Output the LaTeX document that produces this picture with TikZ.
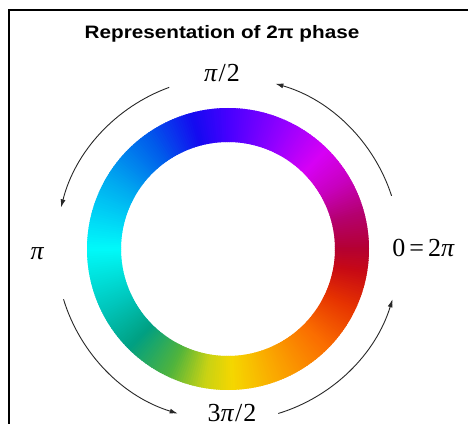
\documentclass[tikz,border=0pt]{standalone}
\usepackage{fontspec}
\newfontfamily\titlefont{Liberation Sans}
\newfontfamily\labelfont{Liberation Serif}
\usetikzlibrary{arrows.meta,calc}
\definecolor{s0}{RGB}{180,0,50}
\definecolor{s1}{RGB}{180,0,110}
\definecolor{s2}{RGB}{200,0,190}
\definecolor{s3}{RGB}{215,0,245}
\definecolor{s4}{RGB}{150,0,255}
\definecolor{s5}{RGB}{70,0,255}
\definecolor{s6}{RGB}{20,10,240}
\definecolor{s7}{RGB}{0,90,235}
\definecolor{s8}{RGB}{0,170,240}
\definecolor{s9}{RGB}{0,250,250}
\definecolor{s10}{RGB}{0,200,190}
\definecolor{s11}{RGB}{0,160,130}
\definecolor{s12}{RGB}{80,180,60}
\definecolor{s13}{RGB}{200,210,20}
\definecolor{s14}{RGB}{245,215,0}
\definecolor{s15}{RGB}{250,170,0}
\definecolor{s16}{RGB}{250,110,0}
\definecolor{s17}{RGB}{230,50,0}
\definecolor{s18}{RGB}{200,10,20}
\definecolor{arcgray}{RGB}{40,40,40}
\newcommand\ringpart[4]{%
  \pgfmathtruncatemacro\nseg{#2-#1}%
  \foreach \k in {1,...,\nseg}{%
    \pgfmathsetmacro\angA{#1+\k-1}%
    \pgfmathsetmacro\angB{#1+\k+0.5}%
    \pgfmathtruncatemacro\pp{100*(\k-0.5)/\nseg}%
    \fill[#4!\pp!#3] ($(C)+(\angA:141)$) arc[start angle=\angA, end angle=\angB, radius=141]
      -- ($(C)+(\angB:107)$) arc[start angle=\angB, end angle=\angA, radius=107] -- cycle;
  }%
}
\newcommand\gpi{\textit{π}}
\begin{document}
\begin{tikzpicture}[x=1pt,y=1pt,
  phasearc/.style={draw=arcgray, line width=0.9pt, -{Latex[length=8pt,width=5pt]}},
  mlabel/.style={font=\labelfont\fontsize{26}{30}\selectfont, inner sep=0pt, anchor=base},
  titlelabel/.style={font=\titlefont\bfseries\fontsize{18}{22}\selectfont, inner sep=0pt, anchor=base, xscale=1.15, transform shape},
  frameline/.style={draw=black, line width=1.8pt}]
\useasboundingbox (0,0) rectangle (468,423);
\clip (0,0) rectangle (468,423);
\fill[white] (0,0) rectangle (468,423);
\coordinate (C) at (228,174);
\foreach \a/\b/\ca/\cb in {0/15/s0/s1, 15/30/s1/s2, 30/45/s2/s3, 45/65/s3/s4, 65/90/s4/s5,
  90/105/s5/s6, 105/125/s6/s7, 125/150/s7/s8, 150/180/s8/s9, 180/205/s9/s10,
  205/225/s10/s11, 225/245/s11/s12, 245/260/s12/s13, 260/272/s13/s14, 272/290/s14/s15,
  290/315/s15/s16, 315/335/s16/s17, 335/350/s17/s18, 350/360/s18/s0}{
  \ringpart{\a}{\b}{\ca}{\cb}
}
\draw[frameline] (9,-5) -- (9,413) -- (475,413);
\node[titlelabel] (title) at (222,384) {Representation of 2π phase};
\node[mlabel] (lhalf) at (222,341.5) {\gpi\kern1pt/\kern1pt2};
\node[mlabel] (lpi) at (37.5,163) {\gpi};
\node[mlabel] (lzero) at (423.5,166.5) {0\kern4pt=\kern4pt2\gpi};
\node[mlabel] (lthree) at (232,2) {3\gpi\kern1pt/\kern1pt2};
\coordinate (a1s) at ($(C)+(18:172)$);
\coordinate (a2s) at ($(C)+(110:172)$);
\coordinate (a3s) at ($(C)+(197:172)$);
\coordinate (a4s) at ($(C)+(287:172)$);
\draw[phasearc] (a1s) arc[start angle=18, end angle=74, radius=172];
\draw[phasearc] (a2s) arc[start angle=110, end angle=166, radius=172];
\draw[phasearc] (a3s) arc[start angle=197, end angle=253, radius=172];
\draw[phasearc] (a4s) arc[start angle=287, end angle=343, radius=172];
\end{tikzpicture}
\end{document}
